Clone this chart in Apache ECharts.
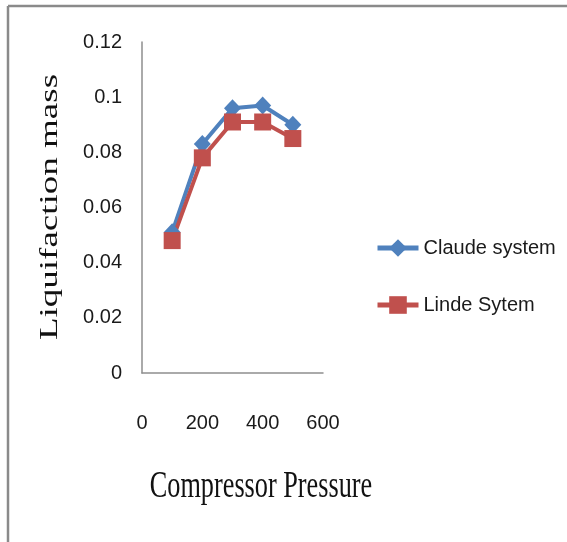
<!DOCTYPE html>
<html>
<head>
<meta charset="utf-8">
<script src="https://cdn.jsdelivr.net/npm/echarts@6/dist/echarts.min.js"></script>
<style>
  html, body { margin: 0; padding: 0; background: #fff; }
  #main { width: 567px; height: 542px; }
</style>
</head>
<body>
<div id="main"></div>
<script>
var pressure = [100, 200, 300, 400, 500];
var claudeMass = [0.051, 0.083, 0.096, 0.097, 0.090];
var lindeMass = [0.048, 0.078, 0.091, 0.091, 0.085];
var seriesNames = ["Claude system", "Linde Sytem"];
var xTitle = "Compressor Pressure";
var yTitle = "Liquifaction mass";

function pairs(xs, ys) {
  return xs.map(function (x, i) { return [x, ys[i]]; });
}

var chartDom = document.getElementById("main");
var myChart = echarts.init(chartDom, null, { renderer: "canvas" });
var labelFont = "'Liberation Sans', Arial, sans-serif";
var serifFont = "'Liberation Serif', 'DejaVu Serif', serif";

var option = {
  backgroundColor: "#ffffff",
  animation: false,
  color: ["#4F81BD", "#C0504D"],
  grid: { left: 142, top: 42, right: 244, bottom: 169, containLabel: false },
  legend: {
    orient: "vertical",
    left: 375,
    top: 238,
    padding: 0,
    itemWidth: 41,
    itemHeight: 22,
    itemGap: 37,
    lineStyle: { width: 5 },
    textStyle: { fontFamily: labelFont, fontSize: 20, color: "#1a1a1a" },
    data: seriesNames
  },
  xAxis: {
    type: "value",
    min: 0,
    max: 600,
    interval: 200,
    axisLine: { show: true, lineStyle: { color: "#8e8e8e", width: 1.5 } },
    axisTick: { show: false },
    splitLine: { show: false },
    axisLabel: { margin: 40, fontFamily: labelFont, fontSize: 20, color: "#1a1a1a" }
  },
  yAxis: {
    type: "value",
    min: 0,
    max: 0.12,
    interval: 0.02,
    axisLine: { show: true, lineStyle: { color: "#8e8e8e", width: 1.5 } },
    axisTick: { show: false },
    splitLine: { show: false },
    axisLabel: {
      margin: 20,
      fontFamily: labelFont,
      fontSize: 20,
      color: "#1a1a1a",
      formatter: function (v) { return String(parseFloat(v.toFixed(2))); }
    }
  },
  graphic: [
    { type: "line", shape: { x1: 8, y1: 6, x2: 567, y2: 6 }, style: { stroke: "#8a8a8a", lineWidth: 2.5 } },
    { type: "line", shape: { x1: 8, y1: 6, x2: 8, y2: 542 }, style: { stroke: "#8a8a8a", lineWidth: 2.5 } },
    {
      type: "text", x: 261, y: 487, scaleX: 0.7,
      style: { text: xTitle, fontFamily: serifFont, fontSize: 37.5, fill: "#111", align: "center", verticalAlign: "middle" }
    },
    {
      type: "text", x: 51, y: 207, rotation: Math.PI / 2, scaleY: 0.66,
      style: { text: yTitle, fontFamily: serifFont, fontSize: 37, fill: "#111", align: "center", verticalAlign: "middle" }
    }
  ],
  series: [
    {
      name: seriesNames[0],
      type: "line",
      data: pairs(pressure, claudeMass),
      symbol: "diamond",
      symbolSize: [17, 18],
      lineStyle: { width: 4, color: "#4F81BD" },
      itemStyle: { color: "#4F81BD" }
    },
    {
      name: seriesNames[1],
      type: "line",
      data: pairs(pressure, lindeMass),
      symbol: "rect",
      symbolSize: 17,
      lineStyle: { width: 4, color: "#C0504D" },
      itemStyle: { color: "#C0504D" }
    }
  ]
};

option && myChart.setOption(option);
</script>
</body>
</html>
